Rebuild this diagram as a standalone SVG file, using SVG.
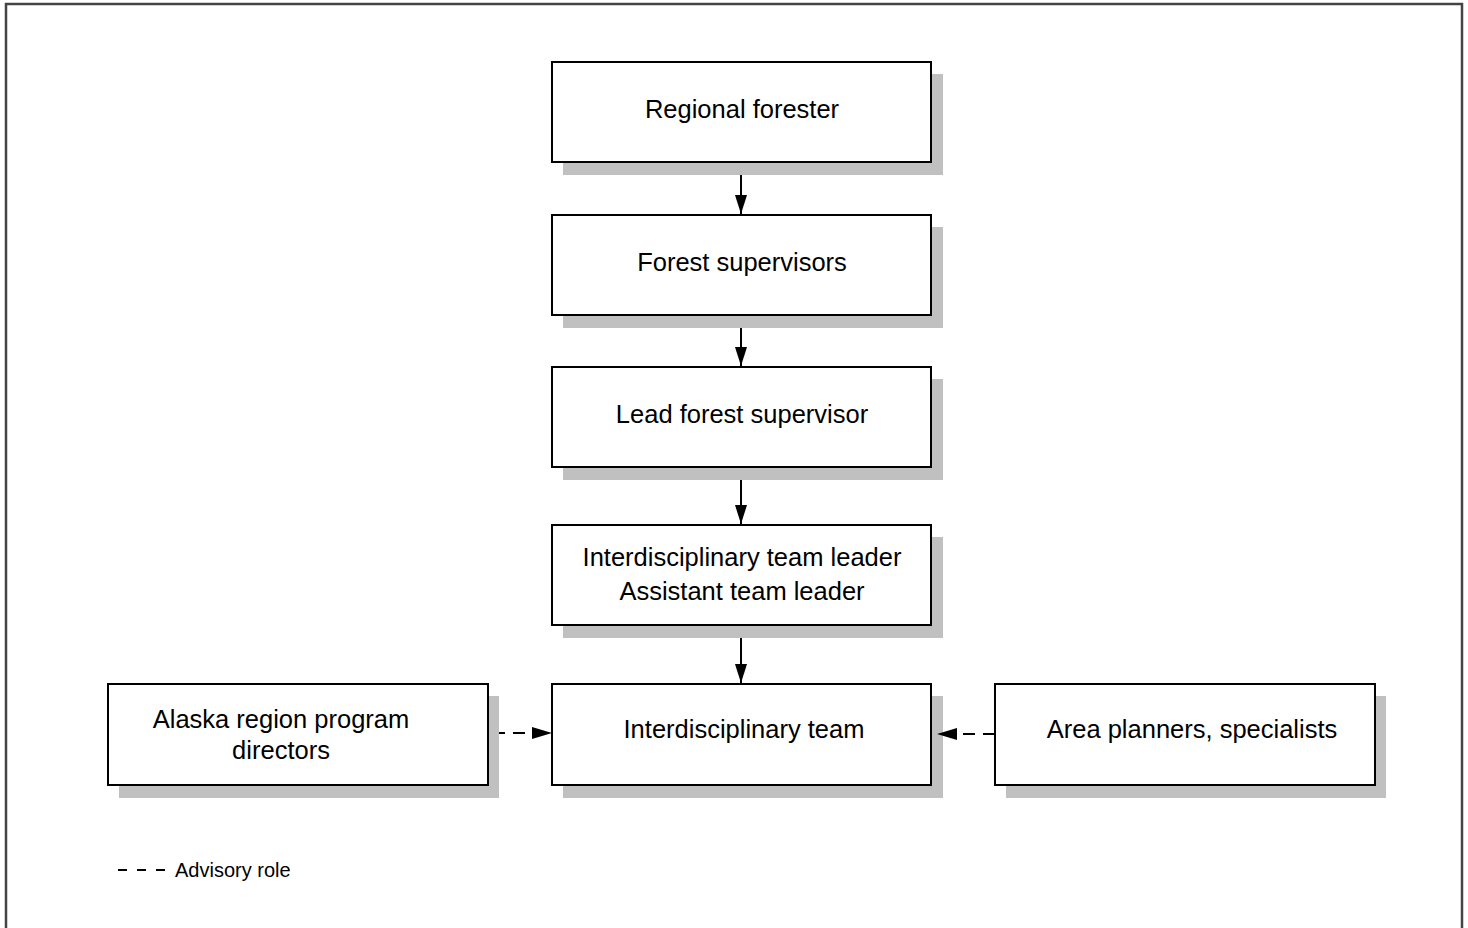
<svg xmlns="http://www.w3.org/2000/svg" width="1468" height="928" viewBox="0 0 1468 928">
<defs>
<style>
.box{fill:#fff;stroke:#000;stroke-width:2}
.shadow{fill:#c0c0c0}
.lbl{font-family:"Liberation Sans",Arial,sans-serif;font-size:25.5px;fill:#000;text-anchor:middle}
.leg{font-family:"Liberation Sans",Arial,sans-serif;font-size:20px;fill:#000}
.solid{stroke:#000;stroke-width:2;fill:none}
.dash{stroke:#000;stroke-width:2;fill:none;stroke-dasharray:12 8}
</style>
<marker id="ah" markerUnits="userSpaceOnUse" markerWidth="20" markerHeight="12" refX="19" refY="6" orient="auto">
<path d="M0,0 L19,6 L0,12 Z" fill="#000"/>
</marker>
</defs>
<rect width="1468" height="928" fill="#fff"/>
<rect x="6" y="4" width="1456" height="940" fill="none" stroke="#444" stroke-width="2.5"/>

<g id="regional-forester">
<rect class="shadow" x="563" y="74" width="380" height="101"/>
<rect class="box" x="552" y="62" width="379" height="100"/>
<text class="lbl" x="742" y="118">Regional forester</text>
</g>
<g id="forest-supervisors">
<rect class="shadow" x="563" y="227" width="380" height="101"/>
<rect class="box" x="552" y="215" width="379" height="100"/>
<text class="lbl" x="742" y="271">Forest supervisors</text>
</g>
<g id="lead-forest-supervisor">
<rect class="shadow" x="563" y="379" width="380" height="101"/>
<rect class="box" x="552" y="367" width="379" height="100"/>
<text class="lbl" x="742" y="423">Lead forest supervisor</text>
</g>
<g id="team-leader">
<rect class="shadow" x="563" y="537" width="380" height="101"/>
<rect class="box" x="552" y="525" width="379" height="100"/>
<text class="lbl" x="742" y="566">Interdisciplinary team leader</text>
<text class="lbl" x="742" y="600">Assistant team leader</text>
</g>
<g id="interdisciplinary-team">
<rect class="shadow" x="563" y="696" width="380" height="102"/>
<rect class="box" x="552" y="684" width="379" height="101"/>
<text class="lbl" x="744" y="738">Interdisciplinary team</text>
</g>
<g id="alaska-directors">
<rect class="shadow" x="119" y="696" width="380" height="102"/>
<rect class="box" x="108" y="684" width="380" height="101"/>
<text class="lbl" x="281" y="728">Alaska region program</text>
<text class="lbl" x="281" y="759">directors</text>
</g>
<g id="area-planners">
<rect class="shadow" x="1006" y="696" width="380" height="102"/>
<rect class="box" x="995" y="684" width="380" height="101"/>
<text class="lbl" x="1192" y="738">Area planners, specialists</text>
</g>

<g id="connectors">
<line class="solid" x1="741" y1="175" x2="741" y2="214" marker-end="url(#ah)"/>
<line class="solid" x1="741" y1="328" x2="741" y2="366" marker-end="url(#ah)"/>
<line class="solid" x1="741" y1="480" x2="741" y2="524" marker-end="url(#ah)"/>
<line class="solid" x1="741" y1="638" x2="741" y2="683" marker-end="url(#ah)"/>
<line class="dash" x1="525" y1="733" x2="499" y2="733"/>
<path d="M532,727 L552,733 L532,739 Z" fill="#000"/>
<line class="dash" x1="995" y1="734" x2="961" y2="734"/>
<path d="M957,728 L937,734 L957,740 Z" fill="#000"/>
</g>

<g id="legend">
<line x1="118" y1="870" x2="173" y2="870" stroke="#000" stroke-width="2" stroke-dasharray="9 10"/>
<text class="leg" x="175" y="877">Advisory role</text>
</g>
</svg>
